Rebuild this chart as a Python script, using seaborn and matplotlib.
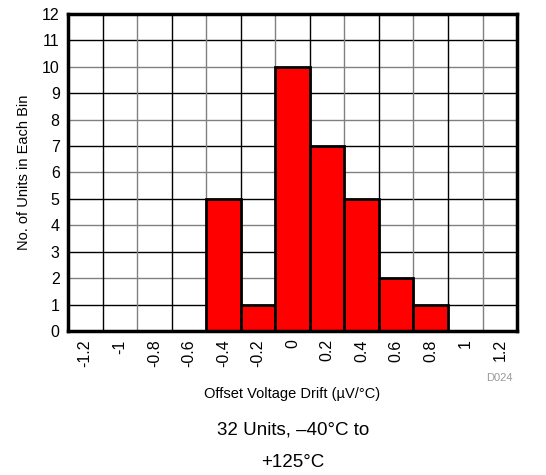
import matplotlib
matplotlib.use('Agg')
import matplotlib.pyplot as plt
import seaborn as sns
import pandas as pd

# 直方图的数据：每个区间中心以及对应的个数
bins = ['-1.2', '-1', '-0.8', '-0.6', '-0.4', '-0.2', '0', '0.2', '0.4', '0.6', '0.8', '1', '1.2']
counts = [0, 0, 0, 0, 5, 1, 10, 7, 5, 2, 1, 0, 0]

sns.set_style('white')
plt.rcParams['font.family'] = ['Liberation Sans', 'DejaVu Sans']
plt.rcParams['text.color'] = 'black'
plt.rcParams['axes.labelcolor'] = 'black'
plt.rcParams['xtick.color'] = 'black'
plt.rcParams['ytick.color'] = 'black'

df = pd.DataFrame({'bin': bins, 'count': counts})

fig = plt.figure(figsize=(5.46, 4.75), dpi=100)
ax = fig.add_axes([0.1245, 0.3032, 0.8225, 0.6673])

# 网格线，黑灰交替
for i in range(1, 12):
    ax.axhline(i, color='black' if i % 2 else '#808080', lw=1.0, zorder=0)
for j in range(1, len(bins)):
    ax.axvline(j - 0.5, color='black' if j % 2 else '#808080', lw=1.0, zorder=0)

sns.barplot(data=df, x='bin', y='count', order=bins, color='#ff0000',
            saturation=1, width=1.0, edgecolor='black', linewidth=2, ax=ax, zorder=2)

ax.set_xlim(-0.5, len(bins) - 0.5)
ax.set_ylim(0, 12)
ax.set_yticks(range(0, 13))
ax.tick_params(axis='both', length=0, labelsize=11.5, pad=6)
ax.tick_params(axis='x', rotation=90)
for s in ax.spines.values():
    s.set_linewidth(2.5)
    s.set_color('black')
    s.set_zorder(3)

ax.set_xlabel('Offset Voltage Drift (µV/°C)', fontsize=10.5, labelpad=14)
ax.set_ylabel('No. of Units in Each Bin', fontsize=10.5, labelpad=8)

fig.text(0.938, 0.204, 'D024', fontsize=8, color='#999999', ha='right', va='center')
fig.text(0.537, 0.094, '32 Units, –40°C to', fontsize=13.5, ha='center', va='center')
fig.text(0.537, 0.027, '+125°C', fontsize=13.5, ha='center', va='center')

fig.savefig('out.png', dpi=100)
